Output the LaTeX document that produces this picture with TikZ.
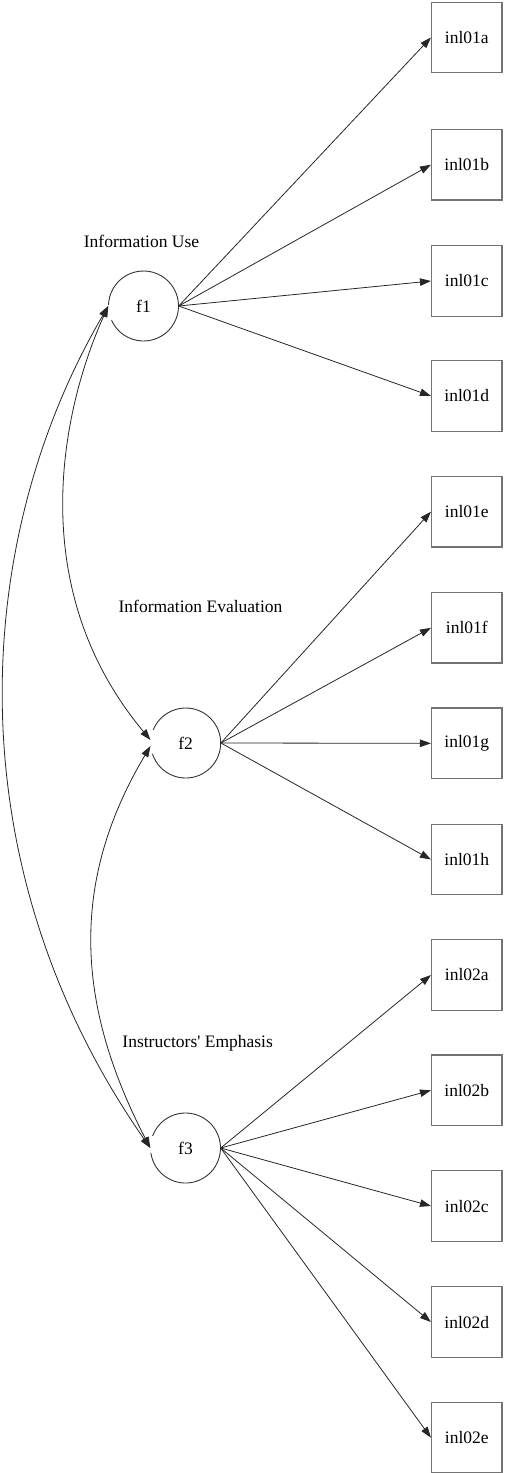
\documentclass[tikz,border=0pt]{standalone}
\usepackage{fontspec}
\setmainfont{Liberation Serif}
\usetikzlibrary{arrows.meta}
\begin{document}
\begin{tikzpicture}[x=1pt,y=-1pt,
  every node/.style={font=\fontsize{17.5}{20}\selectfont},
  obsbox/.style={draw=black!55,line width=1.2pt,minimum width=70.5pt,minimum height=70.5pt,inner sep=0pt},
  latent/.style={circle,minimum size=70pt,inner sep=0pt},
  ring/.style={draw=black!80,line width=0.9pt},
  load/.style={draw=black!85,line width=0.8pt,-{Triangle[length=11pt,width=7.5pt]}},
  cov/.style={draw=black!85,line width=0.8pt,{Triangle[length=11pt,width=7.5pt]}-{Triangle[length=11pt,width=7.5pt]}}]
\useasboundingbox (0,0) rectangle (504,1473);
% latent variables
\node[latent] (f1) at (143.5,306) {f1};
\node[latent] (f2) at (185.7,743) {f2};
\node[latent] (f3) at (185.5,1148) {f3};
\draw[ring] (f1.center) ++(182:35) arc[start angle=182,end angle=516,radius=35];
\draw[ring] (f2.center) ++(202:35) arc[start angle=202,end angle=522,radius=35];
\draw[ring] (f3.center) ++(200:35) arc[start angle=200,end angle=532,radius=35];
% labels
\node (l1) at (141.5,241) {Information Use};
\node (l2) at (200.5,606) {Information Evaluation};
\node (l3) at (197.7,1043) {Instructors\textquotesingle{} Emphasis};
% observed
\node[obsbox] (a1) at (466.8,37.5) {inl01a};
\node[obsbox] (b1) at (466.8,164.7) {inl01b};
\node[obsbox] (c1) at (466.8,281) {inl01c};
\node[obsbox] (d1) at (466.8,396) {inl01d};
\node[obsbox] (e1) at (466.8,511.7) {inl01e};
\node[obsbox] (f1b) at (466.8,627.8) {inl01f};
\node[obsbox] (g1) at (466.8,743.3) {inl01g};
\node[obsbox] (h1) at (466.8,859.5) {inl01h};
\node[obsbox] (a2) at (466.8,975) {inl02a};
\node[obsbox] (b2) at (466.8,1090.3) {inl02b};
\node[obsbox] (c2) at (466.8,1206) {inl02c};
\node[obsbox] (d2) at (466.8,1322) {inl02d};
\node[obsbox] (e2) at (466.8,1437.7) {inl02e};
% loadings
\foreach \t in {a1,b1,c1,d1} \draw[load] (f1.east) -- (\t.west);
\foreach \t in {e1,f1b,g1,h1} \draw[load] (f2.east) -- (\t.west);
\foreach \t in {a2,b2,c2,d2,e2} \draw[load] (f3.east) -- (\t.west);
% covariances
\draw[cov] (f1.west) .. controls (65.1,401.3) and (19.6,583.2) .. ([yshift=3pt]f2.west);
\draw[cov] ([yshift=-3pt]f2.west) .. controls (67.4,885.3) and (78,1008.6) .. (f3.west);
\draw[cov] (f1.west) .. controls (-30,542.3) and (-46,866.2) .. (f3.west);
\end{tikzpicture}
\end{document}
